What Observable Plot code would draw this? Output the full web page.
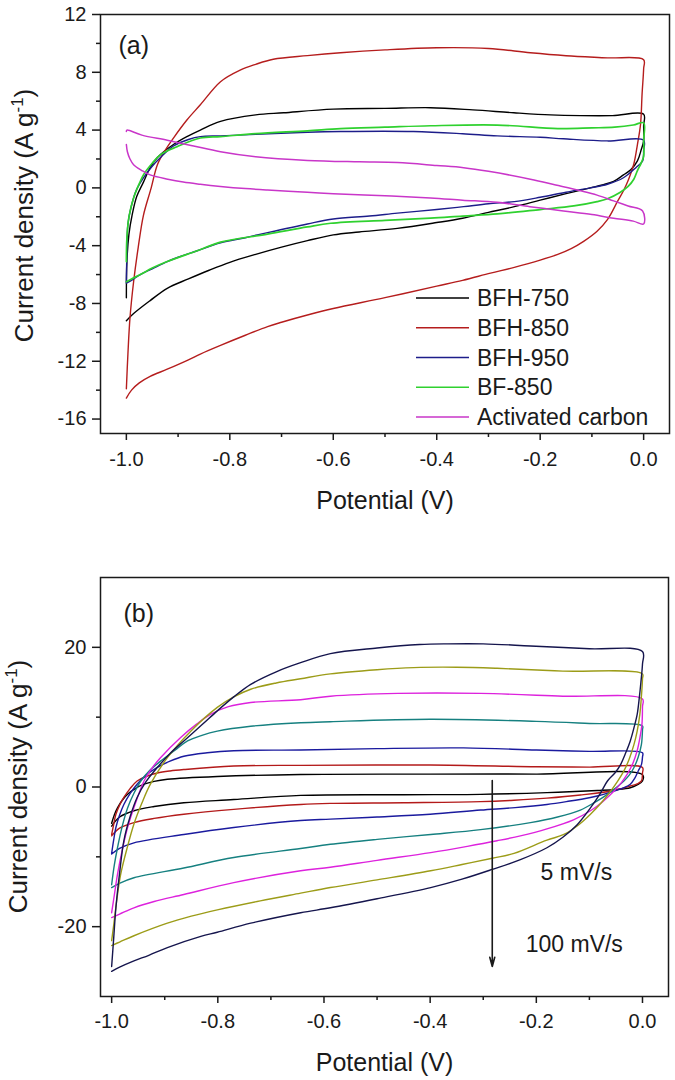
<!DOCTYPE html>
<html>
<head>
<meta charset="utf-8">
<script src="https://cdn.jsdelivr.net/npm/d3@7"></script>
<script src="https://cdn.jsdelivr.net/npm/@observablehq/plot@0.6"></script>
<style>
  html, body { margin: 0; padding: 0; background: #fff; }
  #chart { width: 675px; }
  #chart svg { display: block; }
</style>
</head>
<body>
<div id="chart"></div>
<script>
// ================= Panel (a): CV curves of the samples =================
const aSeries = ["BFH-750", "BFH-850", "BFH-950", "BF-850", "Activated carbon"];
const aColors = ["#000000", "#b51d1d", "#1d1d8a", "#2fd12f", "#c936c9"];

// [potential (V), current density (A/g)] in scan order
const aBFH750 = [
  [-1.0,-7.6],[-0.999,-5.1],[-0.995,-3.2],[-0.989,-1.9],[-0.98,-0.6],[-0.967,0.4],[-0.954,1.4],[-0.94,2.1],
  [-0.909,3.0],[-0.88,3.6],[-0.857,4.0],[-0.818,4.6],[-0.75,5.05],[-0.696,5.2],[-0.6,5.45],[-0.5,5.5],
  [-0.412,5.55],[-0.33,5.4],[-0.251,5.2],[-0.18,5.05],[-0.122,5.0],[-0.06,5.0],[0.0,5.1],
  [0.0,4.3],[0.0,3.26],[-0.005,2.6],[-0.012,1.87],[-0.025,1.25],[-0.039,0.9],[-0.058,0.45],[-0.08,0.2],
  [-0.103,0.0],[-0.15,-0.4],[-0.2,-0.85],[-0.25,-1.3],[-0.3,-1.7],[-0.35,-2.1],[-0.4,-2.4],[-0.476,-2.8],
  [-0.55,-3.05],[-0.6,-3.25],[-0.65,-3.65],[-0.7,-4.1],[-0.75,-4.6],[-0.8,-5.15],[-0.84,-5.7],[-0.88,-6.3],
  [-0.921,-6.95],[-0.954,-7.8],[-0.986,-8.7],[-1.0,-9.2]
];
const aBFH850 = [
  [-1.0,-13.9],[-0.997,-11.5],[-0.993,-9.0],[-0.986,-6.5],[-0.977,-4.1],[-0.967,-1.9],[-0.952,0.0],[-0.94,1.6],
  [-0.925,2.6],[-0.909,3.45],[-0.883,4.7],[-0.857,5.75],[-0.818,7.35],[-0.78,8.15],[-0.75,8.55],[-0.716,8.9],
  [-0.65,9.15],[-0.586,9.35],[-0.5,9.55],[-0.4,9.7],[-0.3,9.65],[-0.219,9.35],[-0.15,9.15],[-0.07,9.0],[0.0,8.87],
  [0.0,8.25],[-0.003,6.5],[-0.006,4.4],[-0.012,3.0],[-0.019,1.65],[-0.029,0.6],[-0.039,-0.2],[-0.05,-0.9],
  [-0.07,-2.2],[-0.09,-3.0],[-0.116,-3.7],[-0.14,-4.2],[-0.166,-4.6],[-0.2,-5.0],[-0.25,-5.5],[-0.296,-5.9],
  [-0.35,-6.4],[-0.4,-6.8],[-0.5,-7.6],[-0.6,-8.35],[-0.65,-8.8],[-0.7,-9.3],[-0.727,-9.6],[-0.77,-10.2],
  [-0.818,-10.9],[-0.857,-11.5],[-0.88,-11.9],[-0.921,-12.55],[-0.954,-13.05],[-0.975,-13.5],[-0.99,-14.0],[-1.0,-14.55]
];
const aBFH950 = [
  [-1.0,-6.6],[-0.999,-4.5],[-0.997,-2.5],[-0.99,-1.2],[-0.98,-0.1],[-0.967,0.7],[-0.95,1.5],[-0.934,2.1],
  [-0.909,2.9],[-0.88,3.35],[-0.857,3.55],[-0.818,3.6],[-0.75,3.7],[-0.65,3.85],[-0.586,3.9],[-0.445,3.9],
  [-0.35,3.75],[-0.283,3.6],[-0.2,3.5],[-0.155,3.4],[-0.07,3.25],[0.0,3.3],
  [0.0,2.6],[-0.002,1.87],[-0.015,1.4],[-0.039,0.7],[-0.07,0.25],[-0.103,0.0],[-0.15,-0.3],[-0.2,-0.65],
  [-0.25,-0.95],[-0.3,-1.1],[-0.348,-1.3],[-0.4,-1.5],[-0.476,-1.75],[-0.53,-1.95],[-0.6,-2.15],[-0.65,-2.5],
  [-0.727,-3.1],[-0.77,-3.45],[-0.818,-3.8],[-0.863,-4.35],[-0.9,-4.8],[-0.921,-5.1],[-0.95,-5.6],
  [-0.973,-6.0],[-0.99,-6.4],[-1.0,-6.6]
];
const aBF850 = [
  [-1.0,-5.1],[-0.999,-3.5],[-0.995,-2.0],[-0.986,-0.7],[-0.975,0.3],[-0.967,0.9],[-0.95,1.7],[-0.934,2.3],
  [-0.902,2.85],[-0.857,3.45],[-0.818,3.55],[-0.75,3.75],[-0.65,3.95],[-0.586,4.1],[-0.5,4.2],[-0.412,4.3],
  [-0.283,4.35],[-0.166,4.1],[-0.1,4.15],[-0.056,4.2],[-0.02,4.35],[0.0,4.5],
  [0.0,3.3],[0.0,2.2],[-0.005,1.7],[-0.012,1.2],[-0.019,0.6],[-0.03,0.1],[-0.045,-0.3],[-0.07,-0.75],
  [-0.09,-0.95],[-0.135,-1.25],[-0.2,-1.5],[-0.283,-1.8],[-0.35,-1.95],[-0.412,-2.1],[-0.5,-2.25],
  [-0.605,-2.45],[-0.65,-2.7],[-0.727,-3.2],[-0.818,-3.75],[-0.863,-4.35],[-0.921,-5.1],[-0.95,-5.55],
  [-0.973,-6.0],[-0.99,-6.3],[-1.0,-6.5]
];
const aAC = [
  [-1.0,3.9],[-0.999,4.0],[-0.97,3.65],[-0.921,3.3],[-0.87,2.9],[-0.818,2.5],[-0.75,2.15],[-0.65,1.9],
  [-0.55,1.8],[-0.476,1.75],[-0.4,1.55],[-0.348,1.4],[-0.3,1.15],[-0.219,0.6],[-0.17,0.2],[-0.122,-0.2],
  [-0.09,-0.5],[-0.058,-0.9],[-0.03,-1.25],[-0.002,-1.6],[0.0,-2.5],
  [-0.02,-2.3],[-0.058,-2.1],[-0.1,-1.85],[-0.155,-1.6],[-0.22,-1.3],[-0.283,-1.0],[-0.35,-0.85],
  [-0.412,-0.7],[-0.5,-0.55],[-0.6,-0.4],[-0.65,-0.3],[-0.727,-0.15],[-0.77,-0.05],[-0.818,0.1],
  [-0.857,0.25],[-0.89,0.4],[-0.92,0.6],[-0.954,0.9],[-0.97,1.2],[-0.986,1.6],[-0.993,2.0],[-0.998,2.5],[-1.0,3.0]
];
const aCurves = [aBFH750, aBFH850, aBFH950, aBF850, aAC];

const aXDomain = [-1.05, 0.05];
const aYDomain = [-17, 12];
const aXTicks = [-1.0, -0.8, -0.6, -0.4, -0.2, 0.0];
const aXTickLabels = ["-1.0", "-0.8", "-0.6", "-0.4", "-0.2", "0.0"];
const aXMinor = [-0.9, -0.7, -0.5, -0.3, -0.1];
const aYTicks = [-16, -12, -8, -4, 0, 4, 8, 12];
const aYTickLabels = ["-16", "-12", "-8", "-4", "0", "4", "8", "12"];
const aYMinor = [-14, -10, -6, -2, 2, 6, 10];

// ================= Panel (b): scan-rate series =================
const bRates = ["5 mV/s", "10 mV/s", "20 mV/s", "40 mV/s", "60 mV/s", "80 mV/s", "100 mV/s"];
const bColors = ["#000000", "#b31a1a", "#1a1a9e", "#168080", "#dd22dd", "#9c9c18", "#15154d"];

const b5 = [
  [-1.0,-5.2],[-0.995,-4.0],[-0.989,-3.0],[-0.98,-1.9],[-0.97,-1.05],[-0.955,-0.2],[-0.939,0.4],[-0.92,0.8],
  [-0.895,1.1],[-0.801,1.5],[-0.644,1.8],[-0.4,1.85],[-0.2,1.85],[0.0,1.75],
  [0.0,0.86],[-0.01,0.3],[-0.023,-0.1],[-0.05,-0.35],[-0.085,-0.5],[-0.18,-0.8],[-0.305,-1.05],[-0.45,-1.1],
  [-0.644,-1.2],[-0.77,-1.8],[-0.864,-2.25],[-0.92,-2.8],[-0.958,-3.4],[-0.985,-4.3],[-1.0,-5.6]
];
const b10 = [
  [-1.0,-6.8],[-0.996,-5.3],[-0.992,-3.9],[-0.985,-2.6],[-0.977,-1.5],[-0.965,-0.2],[-0.952,0.86],[-0.935,1.5],
  [-0.914,2.0],[-0.89,2.3],[-0.864,2.5],[-0.77,3.0],[-0.644,3.1],[-0.4,3.15],[-0.2,2.9],[-0.1,2.85],[0.0,2.8],
  [0.0,2.0],[-0.002,0.86],[-0.01,0.45],[-0.023,0.14],[-0.054,-0.5],[-0.117,-1.15],[-0.18,-1.6],[-0.242,-1.9],
  [-0.305,-2.1],[-0.45,-2.25],[-0.588,-2.35],[-0.644,-2.5],[-0.77,-3.2],[-0.864,-3.9],[-0.92,-4.5],
  [-0.958,-5.1],[-0.985,-5.9],[-1.0,-7.0]
];
const b20 = [
  [-1.0,-9.5],[-0.996,-7.5],[-0.992,-5.8],[-0.985,-4.0],[-0.977,-2.5],[-0.965,-0.9],[-0.952,0.4],[-0.935,1.7],
  [-0.914,2.8],[-0.89,3.7],[-0.864,4.4],[-0.82,4.9],[-0.77,5.2],[-0.644,5.3],[-0.5,5.5],[-0.337,5.6],
  [-0.2,5.3],[-0.1,5.1],[0.0,4.9],
  [0.0,4.3],[-0.002,3.2],[-0.008,2.3],[-0.015,1.2],[-0.023,0.4],[-0.035,-0.1],[-0.054,-0.6],[-0.075,-1.1],
  [-0.098,-1.5],[-0.14,-2.05],[-0.18,-2.5],[-0.24,-2.95],[-0.305,-3.3],[-0.4,-3.9],[-0.5,-4.3],[-0.588,-4.6],
  [-0.644,-4.8],[-0.77,-5.8],[-0.864,-6.8],[-0.958,-8.0],[-0.985,-8.8],[-1.0,-9.6]
];
const b40 = [
  [-1.0,-14.0],[-0.995,-11.2],[-0.989,-8.7],[-0.98,-5.6],[-0.97,-3.0],[-0.958,-0.9],[-0.945,0.86],[-0.928,2.4],
  [-0.908,3.7],[-0.88,5.3],[-0.857,6.6],[-0.83,7.4],[-0.801,8.0],[-0.738,8.7],[-0.644,9.2],[-0.588,9.35],
  [-0.4,9.7],[-0.2,9.4],[-0.1,9.1],[0.0,8.75],
  [0.0,8.2],[-0.002,6.1],[-0.008,4.3],[-0.016,2.8],[-0.025,1.7],[-0.035,0.86],[-0.05,-0.1],[-0.066,-1.05],
  [-0.09,-2.2],[-0.117,-3.3],[-0.16,-4.3],[-0.211,-5.1],[-0.305,-6.1],[-0.399,-6.8],[-0.5,-7.5],[-0.588,-8.2],
  [-0.644,-8.8],[-0.77,-10.1],[-0.864,-11.6],[-0.958,-13.0],[-0.985,-13.8],[-1.0,-14.4]
];
const b60 = [
  [-1.0,-18.0],[-0.995,-15.5],[-0.989,-12.5],[-0.98,-9.0],[-0.97,-5.8],[-0.955,-2.3],[-0.939,0.86],[-0.925,2.6],
  [-0.908,4.2],[-0.87,7.1],[-0.84,9.0],[-0.814,10.4],[-0.78,11.5],[-0.738,12.1],[-0.644,12.5],[-0.588,13.0],
  [-0.461,13.4],[-0.305,13.4],[-0.15,13.0],[0.0,12.6],
  [0.0,11.5],[-0.001,9.0],[-0.005,7.0],[-0.01,5.2],[-0.018,3.4],[-0.029,1.8],[-0.04,0.6],[-0.054,-0.6],
  [-0.075,-2.1],[-0.098,-3.4],[-0.13,-4.7],[-0.18,-6.0],[-0.23,-7.0],[-0.274,-7.7],[-0.33,-8.5],[-0.399,-9.4],
  [-0.5,-10.5],[-0.588,-11.5],[-0.644,-12.0],[-0.77,-13.7],[-0.864,-15.4],[-0.92,-16.4],[-0.958,-17.3],
  [-0.985,-18.2],[-1.0,-18.7]
];
const b80 = [
  [-1.0,-22.0],[-0.996,-19.7],[-0.99,-16.0],[-0.983,-12.5],[-0.97,-8.5],[-0.958,-5.3],[-0.943,-2.3],[-0.927,0.4],
  [-0.895,4.2],[-0.851,8.0],[-0.801,11.4],[-0.77,12.9],[-0.738,14.0],[-0.69,14.9],[-0.644,15.5],[-0.588,16.2],
  [-0.5,16.8],[-0.431,17.1],[-0.35,17.15],[-0.274,17.0],[-0.15,16.6],[0.0,16.2],
  [0.0,15.5],[-0.002,13.0],[-0.005,10.4],[-0.01,8.0],[-0.016,6.1],[-0.025,4.0],[-0.035,2.3],[-0.047,0.8],
  [-0.06,-0.6],[-0.078,-2.3],[-0.098,-3.9],[-0.12,-5.4],[-0.148,-6.8],[-0.18,-7.6],[-0.242,-9.5],[-0.283,-10.2],
  [-0.34,-11.1],[-0.399,-12.0],[-0.5,-13.3],[-0.588,-14.4],[-0.644,-15.2],[-0.72,-16.3],[-0.801,-17.6],
  [-0.85,-18.5],[-0.895,-19.5],[-0.958,-21.3],[-0.985,-22.2],[-1.0,-22.7]
];
const b100 = [
  [-1.0,-25.7],[-0.996,-21.5],[-0.992,-17.3],[-0.985,-12.3],[-0.977,-7.7],[-0.965,-4.2],[-0.952,-1.5],[-0.935,0.8],
  [-0.914,2.8],[-0.89,4.8],[-0.864,6.6],[-0.83,8.9],[-0.801,10.9],[-0.77,12.9],[-0.738,14.7],[-0.69,16.5],
  [-0.644,17.8],[-0.588,19.1],[-0.5,19.9],[-0.42,20.4],[-0.367,20.5],[-0.3,20.5],[-0.211,20.2],[-0.1,19.8],[0.0,19.4],
  [0.0,17.6],[-0.003,15.0],[-0.006,12.8],[-0.01,10.4],[-0.016,8.5],[-0.023,6.6],[-0.031,5.0],[-0.041,3.25],
  [-0.052,2.0],[-0.066,0.86],[-0.08,-1.0],[-0.098,-3.0],[-0.123,-5.4],[-0.15,-7.2],[-0.18,-8.7],[-0.23,-10.4],
  [-0.283,-11.8],[-0.34,-13.2],[-0.399,-14.4],[-0.5,-16.0],[-0.588,-17.3],[-0.644,-18.0],[-0.738,-19.5],
  [-0.801,-20.8],[-0.832,-21.4],[-0.895,-23.0],[-0.93,-24.1],[-0.958,-24.9],[-0.985,-25.8],[-1.0,-26.4]
];
const bCurves = [b5, b10, b20, b40, b60, b80, b100];

const bXDomain = [-1.021, 0.049];
const bYDomain = [-30, 30];
const bXTicks = [-1.0, -0.8, -0.6, -0.4, -0.2, 0.0];
const bXTickLabels = ["-1.0", "-0.8", "-0.6", "-0.4", "-0.2", "0.0"];
const bXMinor = [-0.9, -0.7, -0.5, -0.3, -0.1];
const bYTicks = [-20, 0, 20];
const bYTickLabels = ["-20", "0", "20"];
const bYMinor = [-10, 10];

// annotations of panel (b): arrow from 5 mV/s to 100 mV/s
const bArrow = [{x: -0.283, yFrom: 0.93, yTo: -25.7}];
const bNotes = [
  {x: -0.192, y: -12.25, label: "5 mV/s"},
  {x: -0.220, y: -22.56, label: "100 mV/s"}
];

// ================= rendering =================
const FONT = "'Liberation Sans', Arial, Helvetica, sans-serif";
const INK = "#1a1a1a";

function panel(cfg) {
  const W = 675, H = 540;
  const fw = W - cfg.ml - cfg.mr, fh = H - cfg.mt - cfg.mb;
  const xt = cfg.xTicks.map((v, i) => ({v, label: cfg.xLabels[i]}));
  const yt = cfg.yTicks.map((v, i) => ({v, label: cfg.yLabels[i]}));
  const marks = [];
  cfg.curves.forEach((c, i) => {
    marks.push(Plot.line(c, {x: d => d[0], y: d => d[1], stroke: cfg.colors[i],
      strokeWidth: cfg.widths ? cfg.widths[i] : 1.4, curve: "catmull-rom"}));
  });
  marks.push(
    Plot.frame({stroke: INK, strokeWidth: 1.5}),
    Plot.ruleX(cfg.xTicks, {x: d => d, insetTop: fh, insetBottom: -7, stroke: INK, strokeWidth: 1.5}),
    Plot.ruleX(cfg.xMinor, {x: d => d, insetTop: fh, insetBottom: -4, stroke: INK, strokeWidth: 1.5}),
    Plot.ruleY(cfg.yTicks, {y: d => d, insetLeft: -8, insetRight: fw, stroke: INK, strokeWidth: 1.5}),
    Plot.ruleY(cfg.yMinor, {y: d => d, insetLeft: -4, insetRight: fw, stroke: INK, strokeWidth: 1.5}),
    Plot.text(xt, {x: "v", text: "label", frameAnchor: "bottom", dy: cfg.xLabelDy, lineAnchor: "middle",
      fontSize: 20, fill: INK}),
    Plot.text(yt, {y: "v", text: "label", frameAnchor: "left", dx: -14, textAnchor: "end", lineAnchor: "middle",
      fontSize: 20, fill: INK}),
    Plot.text(["Potential (V)"], {text: d => d, frameAnchor: "bottom", dy: cfg.xTitleDy, lineAnchor: "middle",
      fontSize: 25, fill: INK}),
    Plot.text([cfg.tag], {text: d => d, frameAnchor: "top-left", dx: cfg.tagDx, dy: cfg.tagDy, textAnchor: "start",
      lineAnchor: "middle", fontSize: 25, fill: INK})
  );
  if (cfg.extra) marks.push(...cfg.extra);
  const svg = Plot.plot({
    width: W, height: H,
    marginTop: cfg.mt, marginBottom: cfg.mb, marginLeft: cfg.ml, marginRight: cfg.mr,
    x: {domain: cfg.xDomain, axis: null},
    y: {domain: cfg.yDomain, axis: null},
    style: {fontFamily: FONT, background: "#fff", overflow: "visible"},
    marks
  });
  // y-axis title with superscript
  const s = d3.select(svg);
  const t = s.append("text")
    .attr("transform", `translate(${cfg.yTitleX},${cfg.mt + fh / 2 + cfg.yTitleShift}) rotate(-90)`)
    .attr("text-anchor", "middle")
    .attr("font-family", FONT).attr("font-size", 26).attr("fill", INK);
  t.append("tspan").text("Current density (A g");
  t.append("tspan").attr("font-size", 17).attr("dy", -10).text("-1");
  t.append("tspan").attr("dy", 10).text(")");
  return svg;
}

const svgA = panel({
  ml: 100, mr: 6, mt: 14, mb: 107,
  xDomain: aXDomain, yDomain: aYDomain,
  xTicks: aXTicks, xLabels: aXTickLabels, xMinor: aXMinor,
  yTicks: aYTicks, yLabels: aYTickLabels, yMinor: aYMinor,
  curves: aCurves, colors: aColors, widths: [1.4, 1.4, 1.4, 1.7, 1.5],
  xLabelDy: 26, xTitleDy: 67, tag: "(a)", tagDx: 18, tagDy: 31,
  yTitleX: 33, yTitleShift: -8
});

// legend of panel (a)
{
  const g = d3.select(svgA).append("g").attr("text-anchor", "start");
  aSeries.forEach((name, i) => {
    const y = 298 + i * 29.75;
    g.append("line").attr("x1", 416).attr("x2", 469).attr("y1", y).attr("y2", y)
      .attr("stroke", aColors[i]).attr("stroke-width", 1.6);
    g.append("text").attr("x", 477).attr("y", y).attr("dy", "0.35em").attr("text-anchor", "start")
      .attr("font-family", FONT).attr("font-size", 23).attr("fill", INK).text(name);
  });
}

const svgB = panel({
  ml: 100, mr: 7, mt: 37, mb: 84,
  xDomain: bXDomain, yDomain: bYDomain,
  xTicks: bXTicks, xLabels: bXTickLabels, xMinor: bXMinor,
  yTicks: bYTicks, yLabels: bYTickLabels, yMinor: bYMinor,
  curves: bCurves, colors: bColors,
  xLabelDy: 25, xTitleDy: 66, tag: "(b)", tagDx: 23, tagDy: 36,
  yTitleX: 27, yTitleShift: 0,
  extra: [
    Plot.arrow(bArrow, {x1: "x", x2: "x", y1: "yFrom", y2: "yTo", stroke: INK, strokeWidth: 1.6,
      headLength: 9, headAngle: 30}),
    Plot.text(bNotes, {x: "x", y: "y", text: "label", textAnchor: "start", lineAnchor: "middle",
      fontSize: 23, fill: INK})
  ]
});

document.getElementById("chart").append(svgA, svgB);
</script>
</body>
</html>
